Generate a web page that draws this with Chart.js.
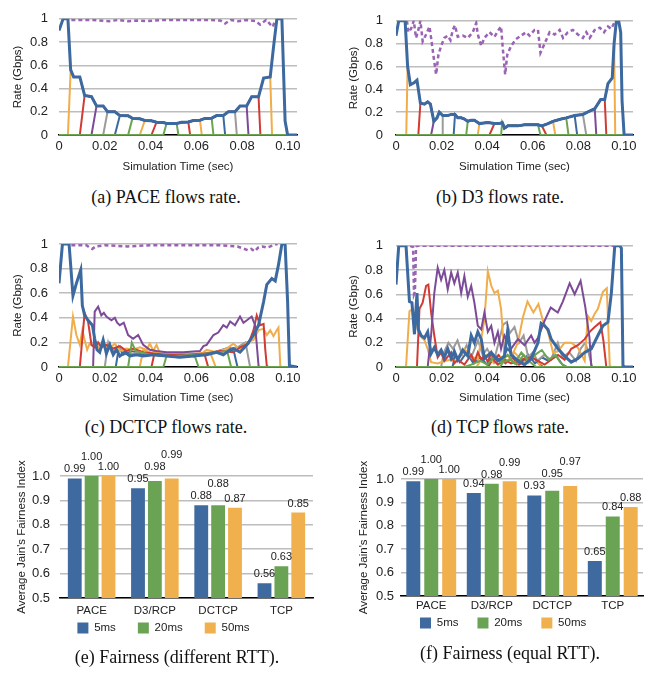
<!DOCTYPE html>
<html>
<head>
<meta charset="utf-8">
<script src="https://cdn.jsdelivr.net/npm/chart.js@4.4.0/dist/chart.umd.min.js"></script>
<style>
  body { margin: 0; background: #fff; width: 662px; height: 675px; position: relative; overflow: hidden; }
  canvas { position: absolute; }
  .cap { position: absolute; width: 332px; text-align: center; font: 18px "Liberation Serif", "Times New Roman", serif; color: #111; line-height: 22px; }
</style>
</head>
<body>
<canvas id="chartA" width="331" height="180" style="left:0;top:0"></canvas>
<canvas id="chartB" width="331" height="180" style="left:331px;top:0"></canvas>
<canvas id="chartC" width="331" height="185" style="left:0;top:225px"></canvas>
<canvas id="chartD" width="331" height="185" style="left:331px;top:225px"></canvas>
<canvas id="chartE" width="331" height="224" style="left:0;top:440px"></canvas>
<canvas id="chartF" width="331" height="219" style="left:331px;top:440px"></canvas>
<div class="cap" style="left:0;top:186px">(a) PACE flows rate.</div>
<div class="cap" style="left:334px;top:186px">(b) D3 flows rate.</div>
<div class="cap" style="left:0;top:416px">(c) DCTCP flows rate.</div>
<div class="cap" style="left:334px;top:416px">(d) TCP flows rate.</div>
<div class="cap" style="left:11px;top:646px">(e) Fairness (different RTT).</div>
<div class="cap" style="left:344px;top:642px">(f) Fairness (equal RTT).</div>
<script>
// ---- flow rate data: [time (s), rate (Gbps)] ----
// PACE: every active flow gets the same share, flows join/leave in nested order
const paceShare = [[0,0.90],[0.0018,1],[0.0039,1],[0.0051,0.56],[0.0064,0.5],[0.0091,0.5],[0.0112,0.34],[0.0142,0.33],
  [0.0164,0.25],[0.0193,0.25],[0.0212,0.2],[0.0244,0.2],[0.0266,0.167],[0.0302,0.165],[0.0321,0.143],[0.0353,0.14],
  [0.0375,0.125],[0.0404,0.123],[0.0426,0.11],[0.0456,0.108],[0.047,0.1],[0.0514,0.1],[0.0536,0.11],[0.0565,0.112],
  [0.0587,0.125],[0.0616,0.127],[0.0638,0.143],[0.0667,0.145],[0.0689,0.167],[0.0718,0.168],[0.074,0.2],[0.0769,0.2],
  [0.0791,0.25],[0.082,0.25],[0.0842,0.33],[0.0872,0.33],[0.0894,0.49],[0.0923,0.5],[0.0937,0.75],[0.0952,1],
  [0.0974,1],[0.0988,0.12],[0.0999,0],[0.104,0]];
const paceJoin = [0.0039, 0.0091, 0.0142, 0.0193, 0.0244, 0.0302, 0.0353, 0.0404, 0.0456];
const paceLeave = [0.0931, 0.088, 0.0828, 0.0777, 0.0726, 0.0675, 0.0624, 0.0573, 0.0522];
const paceTotal = [[0.0054,0.99],[0.015,0.99],[0.022,0.98],[0.026,0.99],[0.03,0.98],[0.034,0.985],[0.038,0.98],[0.045,0.99],
  [0.055,0.99],[0.065,0.99],[0.0705,0.985],[0.0726,0.96],[0.075,0.99],[0.0784,0.98],[0.082,0.99],[0.086,0.98],
  [0.0879,0.95],[0.0905,0.99],[0.0934,0.93],[0.0945,0.99]];

// D3
const d3Share = [[0,0.87],[0.0012,1],[0.004,1],[0.0051,0.6],[0.0063,0.44],[0.0081,0.46],[0.0092,0.48],[0.0107,0.28],
  [0.0125,0.27],[0.0139,0.29],[0.0151,0.27],[0.0166,0.12],[0.018,0.15],[0.019,0.2],[0.0205,0.17],[0.0227,0.17],
  [0.0242,0.18],[0.0259,0.18],[0.0271,0.15],[0.0286,0.15],[0.03,0.14],[0.0315,0.12],[0.033,0.13],[0.0344,0.13],
  [0.0366,0.1],[0.0403,0.11],[0.0432,0.1],[0.0454,0.1],[0.0466,0.11],[0.0476,0.06],[0.0491,0.08],[0.0535,0.08],
  [0.0564,0.09],[0.0593,0.09],[0.0623,0.09],[0.064,0.08],[0.0667,0.1],[0.0689,0.12],[0.0725,0.14],[0.0747,0.15],
  [0.0784,0.17],[0.082,0.18],[0.085,0.21],[0.0872,0.23],[0.0898,0.31],[0.0916,0.31],[0.093,0.45],[0.0949,0.5],
  [0.0957,0.8],[0.0967,1],[0.0977,1],[0.0986,0.9],[0.0992,0.3],[0.1001,0],[0.104,0]];
const d3Join = [0.0045, 0.0098, 0.0154, 0.0202, 0.0253, 0.0308, 0.0359, 0.041, 0.0461];
const d3Leave = [0.0962, 0.0923, 0.0879, 0.0835, 0.0795, 0.0757, 0.0699, 0.066, 0.0634];
const d3Total = [[0.0048,1],[0.0054,0.9],[0.0066,0.93],[0.0078,1],[0.0088,0.85],[0.0098,0.92],[0.0107,1],[0.0117,0.82],
  [0.0132,0.88],[0.0147,0.95],[0.0154,0.85],[0.0166,0.67],[0.0176,0.53],[0.0186,0.7],[0.0198,0.78],[0.0212,0.85],
  [0.0227,0.87],[0.0239,0.83],[0.0249,0.92],[0.0259,0.96],[0.0271,0.86],[0.0293,0.87],[0.0315,0.85],[0.0337,0.9],
  [0.0352,0.98],[0.0359,0.88],[0.0374,0.78],[0.0388,0.85],[0.041,0.9],[0.0432,0.86],[0.045,0.92],[0.0461,0.95],
  [0.0469,0.75],[0.0479,0.53],[0.0488,0.7],[0.0505,0.78],[0.0527,0.84],[0.0549,0.87],[0.0571,0.9],[0.0586,0.87],
  [0.0608,0.92],[0.0623,0.92],[0.0634,0.72],[0.0652,0.8],[0.0674,0.9],[0.0696,0.88],[0.0718,0.92],[0.0733,0.85],
  [0.0754,0.9],[0.0776,0.92],[0.0798,0.88],[0.082,0.85],[0.0835,0.9],[0.085,0.85],[0.0872,0.92],[0.0894,0.94],
  [0.0913,0.9],[0.093,0.95],[0.0945,0.93],[0.0957,0.98]];

// DCTCP
const dctcpBlue = [[0,0.68],[0.0015,1],[0.0044,1],[0.0061,0.58],[0.0076,0.68],[0.0095,0.79],[0.0102,0.5],[0.0112,0.42],
  [0.0127,0.38],[0.0146,0.34],[0.0156,0.23],[0.0166,0.14],[0.0178,0.12],[0.0193,0.22],[0.0207,0.11],[0.0222,0.18],
  [0.0237,0.1],[0.0251,0.14],[0.0266,0.09],[0.0288,0.12],[0.031,0.09],[0.0339,0.1],[0.0368,0.09],[0.0412,0.1],
  [0.047,0.09],[0.0529,0.08],[0.0587,0.09],[0.0645,0.1],[0.0689,0.12],[0.0718,0.1],[0.0748,0.14],[0.0762,0.15],
  [0.0791,0.12],[0.0821,0.18],[0.085,0.26],[0.0872,0.34],[0.0894,0.53],[0.0908,0.67],[0.093,0.72],[0.0945,0.7],
  [0.0959,0.83],[0.0974,1],[0.0988,1],[0.0999,0.53],[0.1007,0.01],[0.104,0]];
const dctcpOrange = [[0,0],[0.0039,0],[0.0061,0.41],[0.0076,0.26],[0.0091,0.18],[0.0102,0.3],[0.0112,0.22],[0.0123,0.14],
  [0.0134,0.19],[0.0149,0.17],[0.0164,0.2],[0.0178,0.14],[0.02,0.18],[0.0222,0.15],[0.0244,0.19],[0.0266,0.13],
  [0.0295,0.15],[0.0324,0.14],[0.0353,0.16],[0.0383,0.14],[0.0397,0.19],[0.0412,0.13],[0.0426,0.18],[0.0441,0.11],
  [0.0499,0.1],[0.0558,0.11],[0.0616,0.1],[0.0645,0.14],[0.0689,0.12],[0.0733,0.15],[0.0762,0.19],[0.0791,0.14],
  [0.0821,0.2],[0.085,0.22],[0.0872,0.3],[0.0894,0.31],[0.0908,0.26],[0.0923,0.3],[0.0937,0.25],[0.0952,0.3],
  [0.0959,0.32],[0.0967,0.01],[0.0974,0],[0.104,0]];
const dctcpRed = [[0,0],[0.0091,0],[0.0112,0.44],[0.0127,0.37],[0.0142,0.18],[0.0156,0.16],[0.0171,0.2],[0.0185,0.16],
  [0.0207,0.18],[0.0237,0.15],[0.0266,0.17],[0.0295,0.13],[0.0324,0.15],[0.0368,0.12],[0.0412,0.11],[0.047,0.1],
  [0.0558,0.1],[0.0645,0.11],[0.0704,0.13],[0.0762,0.12],[0.0791,0.16],[0.0828,0.19],[0.085,0.3],[0.0864,0.42],
  [0.0879,0.34],[0.0894,0.35],[0.0901,0.15],[0.0908,0.01],[0.0915,0],[0.104,0]];
const dctcpPurple = [[0,0],[0.0149,0],[0.0156,0.45],[0.0171,0.49],[0.0185,0.42],[0.0196,0.44],[0.0207,0.41],[0.0229,0.38],
  [0.0244,0.4],[0.0254,0.36],[0.0266,0.34],[0.0283,0.36],[0.0302,0.26],[0.0324,0.23],[0.0346,0.26],[0.0368,0.18],
  [0.0397,0.14],[0.0426,0.13],[0.047,0.12],[0.0543,0.12],[0.0616,0.13],[0.0631,0.17],[0.0645,0.18],[0.066,0.22],
  [0.0675,0.26],[0.0696,0.28],[0.0718,0.34],[0.0733,0.32],[0.0748,0.37],[0.0769,0.34],[0.0791,0.41],[0.0806,0.36],
  [0.0821,0.38],[0.0842,0.41],[0.0857,0.34],[0.0872,0.01],[0.0879,0],[0.104,0]];
const dctcpGray = [[0,0],[0.02,0],[0.0215,0.2],[0.023,0.12],[0.026,0.16],[0.03,0.1],[0.035,0.12],[0.045,0.09],
  [0.055,0.1],[0.065,0.11],[0.072,0.14],[0.078,0.16],[0.0815,0.2],[0.0835,0],[0.104,0]];
const dctcpBlue2 = [[0,0],[0.0248,0],[0.0262,0.16],[0.028,0.1],[0.032,0.13],[0.038,0.1],[0.05,0.09],[0.06,0.1],
  [0.068,0.12],[0.0745,0.16],[0.0765,0.12],[0.078,0],[0.104,0]];
const dctcpGreen = [[0,0],[0.0302,0],[0.0318,0.2],[0.0335,0.13],[0.04,0.1],[0.05,0.09],[0.06,0.1],[0.07,0.12],
  [0.0735,0.13],[0.0752,0],[0.104,0]];
const dctcpOrange2 = [[0,0],[0.0353,0],[0.0368,0.14],[0.04,0.12],[0.05,0.1],[0.06,0.11],[0.066,0.12],[0.0685,0],[0.104,0]];
const dctcpRed2 = [[0,0],[0.0404,0],[0.0418,0.12],[0.045,0.1],[0.055,0.1],[0.0635,0.11],[0.0652,0],[0.104,0]];
const dctcpGreen2 = [[0,0],[0.0456,0],[0.047,0.09],[0.052,0.08],[0.058,0.09],[0.0595,0.08],[0.061,0],[0.104,0]];
const dctcpTotal = [[0.0054,0.99],[0.012,0.99],[0.0135,0.97],[0.0145,0.96],[0.016,0.98],[0.02,0.99],[0.03,0.98],
  [0.04,0.99],[0.05,0.99],[0.06,0.99],[0.07,0.99],[0.078,0.98],[0.0825,0.95],[0.084,0.96],[0.0855,0.94],[0.087,0.97],
  [0.089,0.98],[0.091,0.97],[0.0935,0.99],[0.0955,1]];

// TCP
const tcpBlue = [[0,0.68],[0.0012,1],[0.0044,1],[0.0059,0.54],[0.007,0.53],[0.0081,0.27],[0.0092,0.61],[0.0098,0.31],
  [0.011,0.26],[0.0125,0.24],[0.0139,0.29],[0.0154,0.11],[0.0168,0.16],[0.0183,0.1],[0.0198,0.14],[0.0212,0.08],
  [0.0227,0.15],[0.0242,0.07],[0.0256,0.13],[0.0271,0.06],[0.0293,0.14],[0.0315,0.09],[0.033,0.26],[0.0344,0.2],
  [0.0359,0.29],[0.0374,0.23],[0.0388,0.07],[0.0418,0.12],[0.0447,0.05],[0.0476,0.09],[0.049,0.3],[0.0505,0.1],
  [0.0535,0.05],[0.0564,0.02],[0.0593,0.07],[0.0623,0.2],[0.0637,0.36],[0.0652,0.34],[0.0667,0.31],[0.0681,0.23],
  [0.0711,0.15],[0.074,0.09],[0.0769,0.04],[0.0798,0.07],[0.0828,0.12],[0.0857,0.15],[0.0886,0.26],[0.0908,0.34],
  [0.093,0.37],[0.0945,0.61],[0.096,1],[0.0982,1],[0.0989,0.98],[0.0996,0.01],[0.1004,0],[0.104,0]];
const tcpOrange = [[0,0],[0.0044,0],[0.0059,0.46],[0.0073,0.48],[0.0088,0.37],[0.0103,0.26],[0.0125,0.22],[0.0139,0.15],
  [0.0154,0.04],[0.0183,0.03],[0.0212,0.05],[0.0242,0.06],[0.0271,0.05],[0.03,0.15],[0.033,0.09],[0.0359,0.06],
  [0.0388,0.39],[0.0403,0.79],[0.0418,0.67],[0.0432,0.61],[0.0447,0.63],[0.0461,0.48],[0.0476,0.1],[0.0505,0.08],
  [0.0535,0.2],[0.0557,0.41],[0.0577,0.54],[0.0603,0.45],[0.0625,0.52],[0.0645,0.38],[0.0667,0.29],[0.0689,0.12],
  [0.0711,0.13],[0.074,0.2],[0.0769,0.2],[0.0798,0.16],[0.0828,0.05],[0.0842,0.42],[0.0857,0.38],[0.0872,0.44],
  [0.0886,0.48],[0.0908,0.62],[0.0925,0.65],[0.0938,0.01],[0.0945,0],[0.104,0]];
const tcpRed = [[0,0],[0.0092,0],[0.0103,0.48],[0.0117,0.53],[0.0132,0.67],[0.0142,0.68],[0.0154,0.45],[0.0168,0.26],
  [0.0183,0.08],[0.0198,0.12],[0.0212,0.05],[0.0242,0.12],[0.0256,0.03],[0.0271,0.06],[0.03,0.02],[0.033,0.1],
  [0.0344,0.04],[0.0359,0.12],[0.0374,0.06],[0.0388,0.1],[0.0403,0.04],[0.0418,0.12],[0.0432,0.05],[0.0447,0.02],
  [0.0476,0.06],[0.0505,0.03],[0.0535,0.05],[0.0564,0.07],[0.0593,0.08],[0.0623,0.05],[0.0652,0.02],[0.0681,0.06],
  [0.0711,0.1],[0.074,0.06],[0.0769,0.15],[0.0798,0.18],[0.0828,0.23],[0.085,0.29],[0.0872,0.33],[0.0897,0.37],
  [0.091,0.22],[0.0923,0],[0.104,0]];
const tcpPurple = [[0,0],[0.0139,0],[0.0154,0.26],[0.0168,0.61],[0.0183,0.82],[0.0198,0.72],[0.0212,0.8],[0.0227,0.64],
  [0.0242,0.78],[0.0256,0.69],[0.0271,0.78],[0.0286,0.61],[0.03,0.75],[0.0315,0.58],[0.033,0.67],[0.0344,0.53],
  [0.0359,0.34],[0.0374,0.31],[0.0388,0.45],[0.0403,0.29],[0.0418,0.34],[0.0432,0.2],[0.0447,0.29],[0.0461,0.15],
  [0.0476,0.26],[0.0505,0.15],[0.0535,0.23],[0.0564,0.18],[0.0593,0.26],[0.0608,0.2],[0.0623,0.24],[0.0652,0.38],
  [0.0679,0.49],[0.071,0.45],[0.0732,0.54],[0.0762,0.69],[0.0784,0.6],[0.081,0.71],[0.0831,0.49],[0.0849,0.24],
  [0.0857,0.01],[0.0862,0],[0.104,0]];
const tcpGray = [[0,0],[0.0198,0],[0.021,0.12],[0.023,0.2],[0.025,0.15],[0.027,0.22],[0.029,0.1],[0.031,0.18],
  [0.033,0.08],[0.036,0.22],[0.038,0.1],[0.04,0.15],[0.043,0.05],[0.045,0.2],[0.047,0.35],[0.0485,0.37],[0.05,0.28],
  [0.052,0.33],[0.054,0.2],[0.056,0.26],[0.058,0.08],[0.06,0.12],[0.062,0.05],[0.065,0.1],[0.068,0.06],[0.071,0.2],
  [0.073,0.08],[0.076,0.12],[0.079,0.05],[0.081,0.15],[0.083,0.2],[0.0845,0.12],[0.086,0],[0.104,0]];
const tcpBlue2 = [[0,0],[0.0248,0],[0.026,0.1],[0.028,0.04],[0.031,0.12],[0.034,0.03],[0.037,0.08],[0.04,0.02],
  [0.043,0.1],[0.046,0.05],[0.049,0.15],[0.052,0.08],[0.055,0.04],[0.058,0.1],[0.061,0.03],[0.064,0.08],[0.067,0.05],
  [0.07,0.1],[0.073,0.02],[0.075,0],[0.104,0]];
const tcpGreen = [[0,0],[0.03,0],[0.033,0.02],[0.037,0.05],[0.04,0.02],[0.043,0.08],[0.046,0.04],[0.049,0.1],
  [0.052,0.03],[0.055,0.12],[0.058,0.05],[0.061,0.1],[0.064,0.14],[0.067,0.06],[0.07,0.1],[0.072,0.04],[0.0745,0],[0.104,0]];
const tcpOrange2 = [[0,0],[0.0353,0],[0.037,0.05],[0.04,0.1],[0.043,0.03],[0.046,0.08],[0.049,0.05],[0.052,0.12],
  [0.055,0.06],[0.058,0.03],[0.061,0.09],[0.0635,0],[0.104,0]];
const tcpRed2 = [[0,0],[0.0404,0],[0.042,0.05],[0.045,0.1],[0.048,0.03],[0.051,0.08],[0.054,0.02],[0.057,0.06],
  [0.06,0.1],[0.062,0.04],[0.0645,0],[0.104,0]];
const tcpGreen2 = [[0,0],[0.0456,0],[0.047,0.04],[0.05,0.06],[0.053,0.02],[0.056,0.1],[0.059,0.04],[0.0615,0],[0.104,0]];
const tcpTotal = [[0.0062,1],[0.0075,0.99],[0.0079,0.6],[0.0083,0.62],[0.0088,0.99],[0.0092,1],[0.0955,1]];

// ---- fairness data ----
const methods = ['PACE', 'D3/RCP', 'DCTCP', 'TCP'];
const rttLabels = ['5ms', '20ms', '50ms'];
const fairDiff5 = [0.99, 0.95, 0.88, 0.56];
const fairDiff20 = [1.00, 0.98, 0.88, 0.63];
const fairDiff50 = [1.00, 0.99, 0.87, 0.85];
const fairEq5 = [0.99, 0.94, 0.93, 0.65];
const fairEq20 = [1.00, 0.98, 0.95, 0.84];
const fairEq50 = [1.00, 0.99, 0.97, 0.88];

// ---- styling ----
Chart.defaults.font.family = '"Liberation Sans", Arial, sans-serif';
Chart.defaults.color = '#222';

const BLUE = '#3c69a0', ORANGE = '#f0ad4a', RED = '#d13b33', PURPLE = '#7d4a98', GRAY = '#9b9b9b', GREEN = '#6ca552';
const TOTAL = '#9a63b3';
// flow index 1..9 colours (flow 0 is the thick blue)
const flowColors = [BLUE, ORANGE, RED, PURPLE, GRAY, BLUE, GREEN, ORANGE, RED, GREEN];
const drawOrder = [9, 6, 3, 2, 1, 4, 5, 7, 8]; // first = drawn on top

function lineSet(pts, color, width, dash) {
  return {
    data: pts.map(p => ({ x: p[0], y: p[1] })),
    borderColor: color, borderWidth: width, borderDash: dash || [],
    pointRadius: 0, tension: 0, fill: false
  };
}

function shareFlow(share, join, leave) {
  const pts = [[0, 0], [join, 0]];
  share.forEach(p => { if (p[0] > join && p[0] < leave) pts.push(p); });
  pts.push([leave, 0], [0.104, 0]);
  return pts;
}

function shareSets(share, joins, leaves, total) {
  const sets = [lineSet(share, BLUE, 3), lineSet(total, TOTAL, 2.5, [4, 3])];
  drawOrder.forEach(k => sets.push(lineSet(shareFlow(share, joins[k - 1], leaves[k - 1]), flowColors[k], 2)));
  return sets;
}

function listSets(flows, total) {
  const sets = [lineSet(flows[0], BLUE, 3), lineSet(total, TOTAL, 2.5, [4, 3])];
  drawOrder.forEach(k => sets.push(lineSet(flows[k], flowColors[k], 2)));
  return sets;
}

function lineChart(id, sets, L) {
  new Chart(document.getElementById(id), {
    type: 'line',
    data: { datasets: sets },
    options: {
      responsive: false,
      animation: false,
      layout: { padding: { left: 0, right: L.right, top: L.top, bottom: L.bottom } },
      plugins: { legend: { display: false }, tooltip: { enabled: false } },
      scales: {
        x: {
          type: 'linear', min: 0, max: 0.104,
          afterFit: s => { s.height = L.xh; },
          grid: { display: false, drawTicks: false },
          border: { display: true, color: '#000', width: 1.5 },
          ticks: {
            stepSize: 0.02, includeBounds: false, padding: 4, maxRotation: 0, autoSkip: false,
            font: { size: 13 },
            callback: v => v === 0 ? '0' : v.toFixed(2)
          },
          title: { display: true, text: 'Simulation Time (sec)', font: { size: 11.5 }, padding: 0 }
        },
        y: {
          min: 0, max: 1,
          afterFit: s => { s.width = L.yw; },
          grid: { color: '#bdbdbd', lineWidth: 1.5, drawTicks: false },
          border: { display: false },
          ticks: {
            stepSize: 0.2, padding: L.tp, font: { size: 13 },
            callback: v => (v === 0 || v === 1) ? String(v) : v.toFixed(1)
          },
          title: { display: true, text: 'Rate (Gbps)', font: { size: 11.5 }, padding: { top: L.tt, bottom: 0 } }
        }
      }
    }
  });
}

lineChart('chartA', shareSets(paceShare, paceJoin, paceLeave, paceTotal),
  { right: 34, top: 12, bottom: 6, xh: 39, yw: 59, tp: 11, tt: 11 });
lineChart('chartB', shareSets(d3Share, d3Join, d3Leave, d3Total),
  { right: 29, top: 12, bottom: 6, xh: 39, yw: 65, tp: 13, tt: 16 });
lineChart('chartC', listSets([dctcpBlue, dctcpOrange, dctcpRed, dctcpPurple, dctcpGray, dctcpBlue2, dctcpGreen,
  dctcpOrange2, dctcpRed2, dctcpGreen2], dctcpTotal),
  { right: 34, top: 19, bottom: 5, xh: 38, yw: 59, tp: 11, tt: 11 });
lineChart('chartD', listSets([tcpBlue, tcpOrange, tcpRed, tcpPurple, tcpGray, tcpBlue2, tcpGreen,
  tcpOrange2, tcpRed2, tcpGreen2], tcpTotal),
  { right: 29, top: 19, bottom: 5, xh: 38, yw: 65, tp: 13, tt: 16 });

// value labels above bars, lifted when they would collide with a neighbour's label
const valueLabels = {
  id: 'valueLabels',
  afterDatasetsDraw(chart) {
    const ctx = chart.ctx;
    ctx.save();
    ctx.font = '11px "Liberation Sans", Arial, sans-serif';
    ctx.fillStyle = '#222';
    ctx.textAlign = 'center';
    ctx.textBaseline = 'middle';
    const placed = [];
    chart.data.labels.forEach((_, i) => {
      chart.data.datasets.forEach((ds, d) => {
        const bar = chart.getDatasetMeta(d).data[i];
        const text = ds.data[i].toFixed(2);
        const w = ctx.measureText(text).width;
        let y = bar.y - 9;
        let moved = true;
        while (moved) {
          moved = false;
          for (const p of placed) {
            if (Math.abs(p.x - bar.x) < w && Math.abs(p.y - y) < 8.5) {
              y = p.y - 12;
              moved = true;
            }
          }
        }
        placed.push({ x: bar.x, y: y });
        ctx.fillText(text, bar.x, y);
      });
    });
    ctx.restore();
  }
};

// pull the legend up closer to the category labels
const legendShift = {
  id: 'legendShift',
  afterLayout(chart, args, opts) {
    if (chart.legend && opts.dy) {
      chart.legend.top += opts.dy;
      chart.legend.bottom += opts.dy;
    }
  }
};

function barChart(id, values, L) {
  const colors = ['#3e6a9f', '#6ba354', '#f0b04d'];
  new Chart(document.getElementById(id), {
    type: 'bar',
    data: {
      labels: methods,
      datasets: values.map((v, k) => ({ label: rttLabels[k], data: v, backgroundColor: colors[k] }))
    },
    options: {
      responsive: false,
      animation: false,
      layout: { padding: { left: L.left, right: L.right, top: L.top, bottom: L.bottom } },
      datasets: { bar: { categoryPercentage: L.cp, barPercentage: L.bp } },
      plugins: {
        legend: {
          position: 'bottom', align: L.align, fullSize: L.full,
          labels: { boxWidth: 11, boxHeight: 11, padding: L.lp, font: { size: 11.5 } }
        },
        legendShift: { dy: L.dy },
        tooltip: { enabled: false }
      },
      scales: {
        x: {
          afterFit: s => { s.height = L.xh; },
          grid: { display: false, drawTicks: false },
          border: { color: '#000', width: 1.5 },
          ticks: { padding: L.xp, font: { size: 11.5 } }
        },
        y: {
          min: 0.5, max: 1.0,
          afterFit: s => { s.width = L.yw; },
          grid: { color: '#bdbdbd', lineWidth: 1.5, drawTicks: false },
          border: { display: false },
          ticks: { stepSize: 0.1, padding: L.tp, font: { size: 13 }, callback: v => v.toFixed(1) },
          title: { display: true, text: "Average Jain's Fairness Index", font: { size: 11.5 }, padding: { top: L.tt, bottom: 0 } }
        }
      }
    },
    plugins: [valueLabels, legendShift]
  });
}

barChart('chartE', [fairDiff5, fairDiff20, fairDiff50],
  { left: 14, right: 18, top: 36, bottom: 2.5, xh: 20, yw: 46, tp: 10, tt: 1, xp: 6,
    cp: 0.8, bp: 0.82, lp: 22, align: 'center', full: true, dy: -17.75 });
barChart('chartF', [fairEq5, fairEq20, fairEq50],
  { left: 0, right: 19, top: 39, bottom: 2.5, xh: 20, yw: 70, tp: 7, tt: 26, xp: 3,
    cp: 0.89, bp: 0.78, lp: 19, align: 'start', full: false, dy: -17.75 });
</script>
</body>
</html>
